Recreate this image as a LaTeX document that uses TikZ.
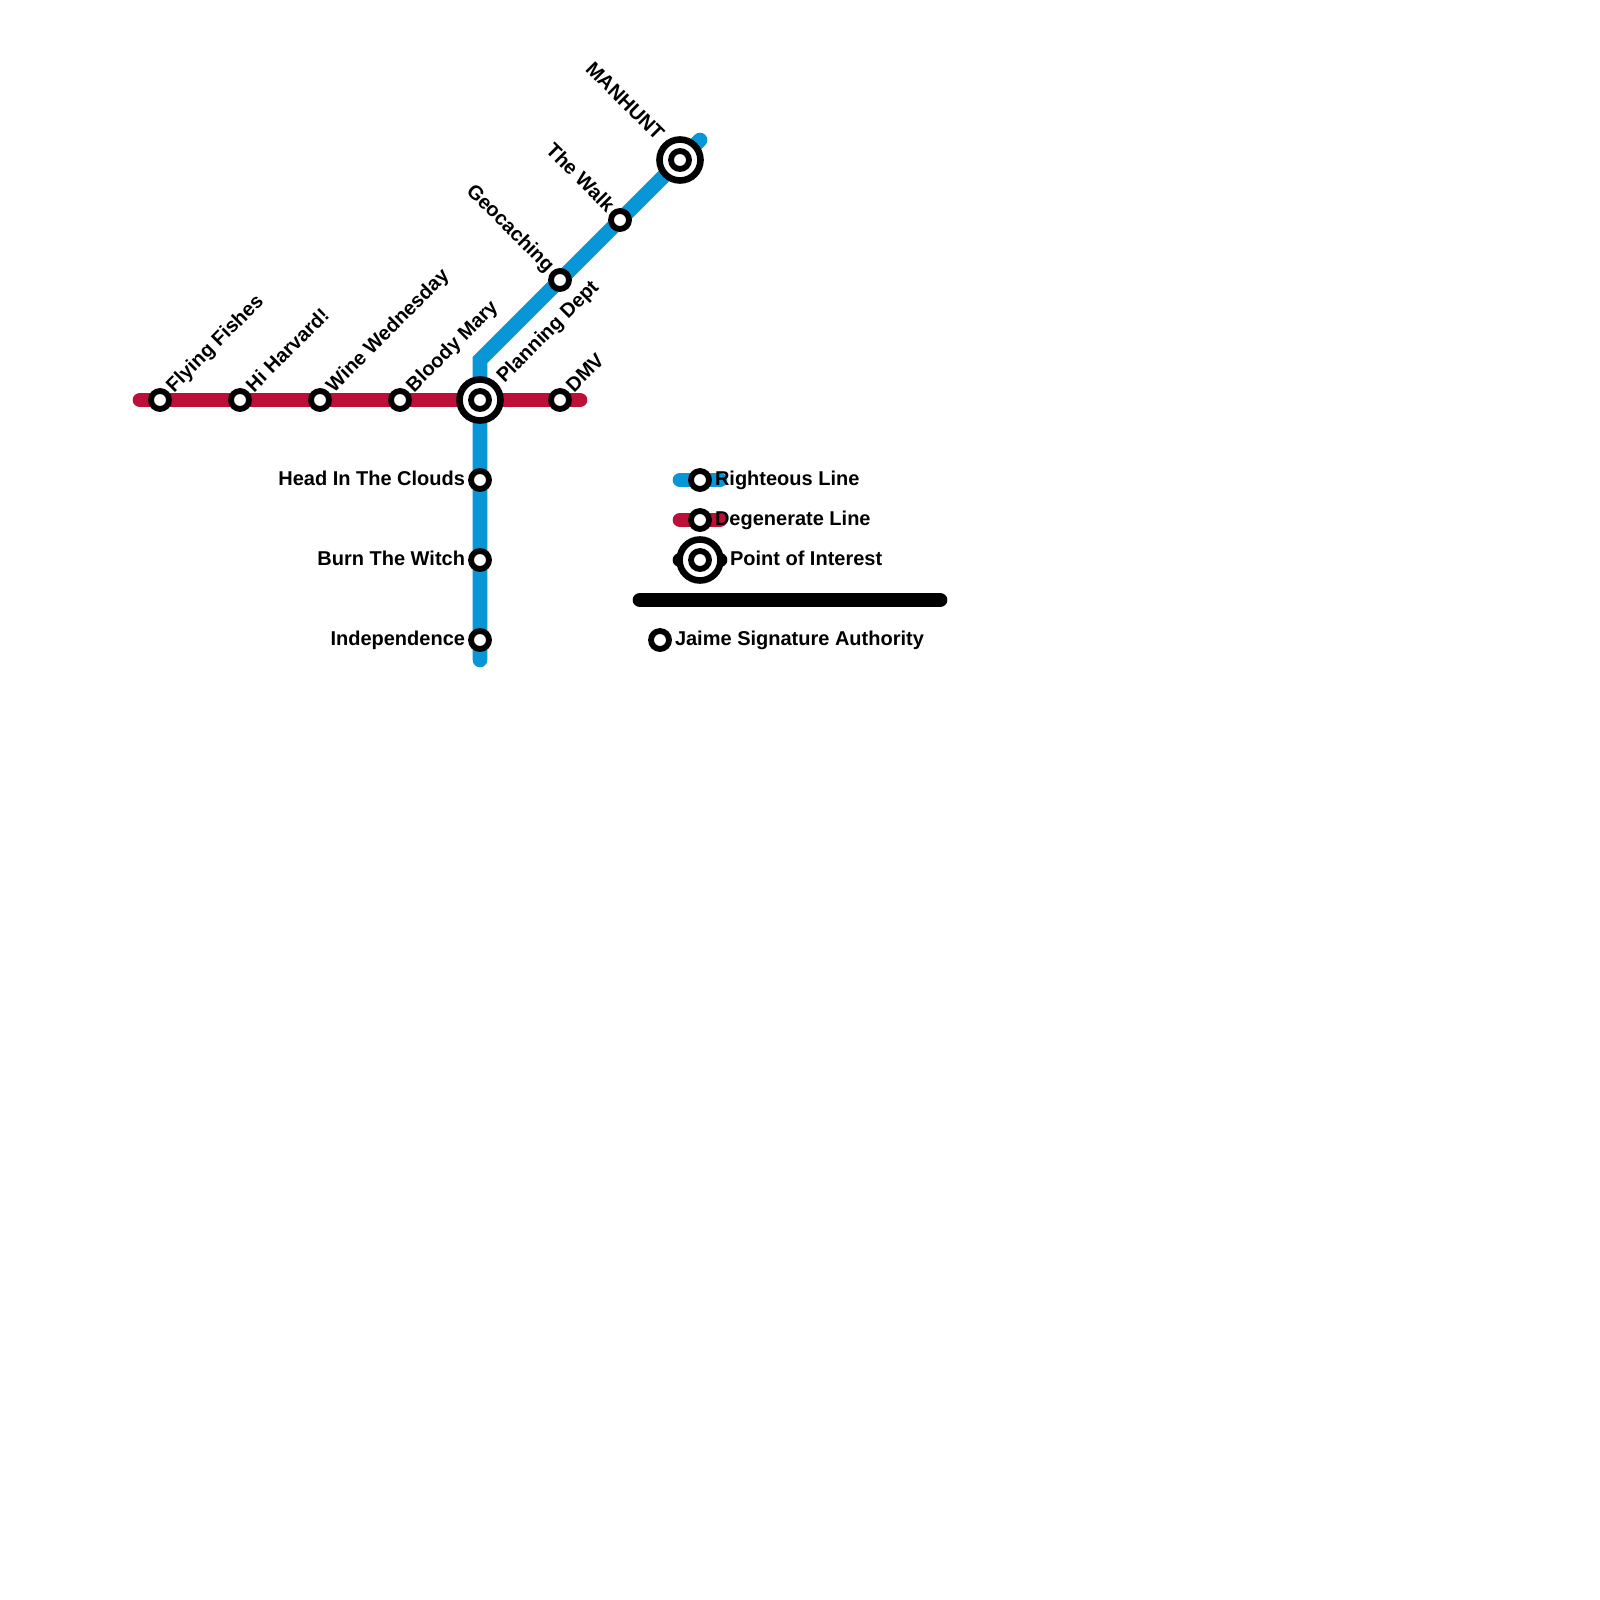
\documentclass[tikz,border=0pt]{standalone}
\usepackage{fontspec}
\setmainfont{Liberation Sans}
\definecolor{rightblue}{HTML}{0896D7}
\definecolor{degred}{HTML}{BD1038}
\tikzset{
  lineseg/.style={line width=14.67pt,line cap=round,line join=miter},
  stn/.style={circle,draw=black,fill=white,line width=5.8pt,minimum size=18pt,inner sep=0pt},
  poi/.style={circle,draw=black,fill=white,line width=6.6pt,minimum size=41pt,inner sep=0pt},
  lbl/.style={font=\bfseries\fontsize{20}{24}\selectfont,text=black,inner sep=0pt,outer sep=0pt},
  lblE/.style={lbl,anchor=base east},
  lblW/.style={lbl,anchor=base west},
  lblNE/.style={lbl,anchor=base west,rotate=45},
  lblNW/.style={lbl,anchor=base east,rotate=-45},
}
\begin{document}
\begin{tikzpicture}[x=1pt,y=-1pt]
\useasboundingbox (0,0) rectangle (1600,1600);
% line ends and bends
\coordinate (redW) at (140,400);
\coordinate (redE) at (580,400);
\coordinate (blueS) at (480,660);
\coordinate (blueB) at (480,360);
\coordinate (blueN) at (700,140);
\coordinate (lgBa) at (680,480);
\coordinate (lgBb) at (720,480);
\coordinate (lgRa) at (680,520);
\coordinate (lgRb) at (720,520);
\coordinate (lgKa) at (680,560);
\coordinate (lgKb) at (720,560);
\coordinate (barW) at (640,600);
\coordinate (barE) at (940,600);
% lines
\draw[lineseg,degred] (redW) -- (redE);
\draw[lineseg,rightblue] (blueS) -- (blueB) -- (blueN);
\draw[lineseg,rightblue] (lgBa) -- (lgBb);
\draw[lineseg,degred] (lgRa) -- (lgRb);
\draw[lineseg,black] (lgKa) -- (lgKb);
\draw[lineseg,black] (barW) -- (barE);
% stations
\node[stn] (flying) at (160,400) {};
\node[stn] (harvard) at (240,400) {};
\node[stn] (wine) at (320,400) {};
\node[stn] (bloody) at (400,400) {};
\node[poi] (planningO) at (480,400) {};
\node[stn] (planning) at (480,400) {};
\node[stn] (dmv) at (560,400) {};
\node[stn] (head) at (480,480) {};
\node[stn] (burn) at (480,560) {};
\node[stn] (indep) at (480,640) {};
\node[stn] (geo) at (560,280) {};
\node[stn] (walk) at (620,220) {};
\node[poi] (manhuntO) at (680,160) {};
\node[stn] (manhunt) at (680,160) {};
\node[stn] (lgB) at (700,480) {};
\node[stn] (lgR) at (700,520) {};
\node[poi] (lgPO) at (700,560) {};
\node[stn] (lgP) at (700,560) {};
\node[stn] (jaime) at (660,640) {};
% labels
\node[lblNE] (tFlying) at (174,393) {Flying Fishes};
\node[lblNE] (tHarvard) at (254,393) {Hi Harvard!};
\node[lblNE] (tWine) at (334,393) {Wine Wednesday};
\node[lblNE] (tBloody) at (414,393) {Bloody Mary};
\node[lblNE] (tPlanning) at (504.5,383.5) {Planning Dept};
\node[lblNE] (tDmv) at (574,393) {DMV};
\node[lblE] (tHead) at (465,485) {Head In The Clouds};
\node[lblE] (tBurn) at (465,565) {Burn The Witch};
\node[lblE] (tIndep) at (465,645) {Independence};
\node[lblNW] (tGeo) at (546.5,273) {Geocaching};
\node[lblNW] (tWalk) at (606.5,213) {The Walk};
\node[lblNW] (tMan) at (656,141.5) {MANHUNT};
\node[lblW] (tR) at (715,485) {Righteous Line};
\node[lblW] (tD) at (715,525) {Degenerate Line};
\node[lblW] (tP) at (730,565) {Point of Interest};
\node[lblW] (tJ) at (675,645) {Jaime Signature Authority};
\end{tikzpicture}
\end{document}
